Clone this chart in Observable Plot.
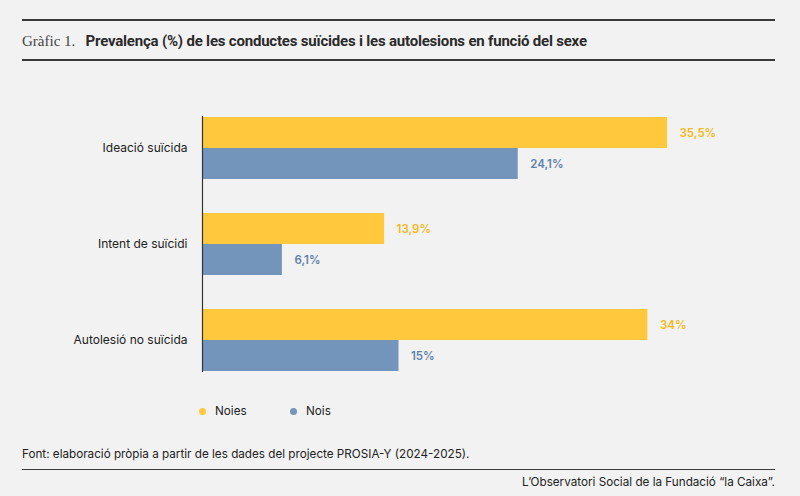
<!DOCTYPE html>
<html><head><meta charset="utf-8">
<script src="https://cdn.jsdelivr.net/npm/d3@7"></script>
<script src="https://cdn.jsdelivr.net/npm/@observablehq/plot@0.6"></script>
<style>
body{margin:0;width:800px;height:496px;background:#f2f2f2;font-family:"Inter",sans-serif;position:relative;overflow:hidden;color:#222}
.abs{position:absolute}
.rule{left:22px;width:753px;height:0;border-top:2px solid #3a3a3a}
</style></head><body>
<div class="abs rule" style="top:19px"></div>
<div class="abs" style="left:22px;top:31px;font-size:15px;white-space:nowrap">
<span style="font-family:'Liberation Serif',serif;color:#444;font-size:15px">Gràfic 1.</span>
<span style="font-family:Roboto,sans-serif;font-weight:700;letter-spacing:-0.2px;margin-left:6px;color:#2a2a2a">Prevalença (%) de les conductes suïcides i les autolesions en funció del sexe</span></div>
<div class="abs rule" style="top:59px"></div>
<div id="chart" class="abs" style="left:0;top:93px"></div>
<div class="abs" style="top:404px;left:199px;font-size:11.7px;display:flex;gap:0">
<span style="display:flex;align-items:center;width:91px"><span style="width:7px;height:7px;border-radius:50%;background:#ffc83d;margin-right:9px"></span>Noies</span>
<span style="display:flex;align-items:center"><span style="width:7px;height:7px;border-radius:50%;background:#7394bb;margin-right:9px"></span>Nois</span>
</div>
<div class="abs" style="left:22px;top:447px;font-size:11.7px">Font: elaboració pròpia a partir de les dades del projecte PROSIA-Y (2024-2025).</div>
<div class="abs rule" style="top:469px;border-top-width:1.5px"></div>
<div class="abs" style="right:25px;top:475px;font-size:11.7px">L’Observatori Social de la Fundació “la Caixa”.</div>
<script>
const categories = ["Ideació suïcida","Intent de suïcidi","Autolesió no suïcida"];
const sexes = ["Noies","Nois"];
const noies = [35.5, 13.9, 34];
const nois = [24.1, 6.1, 15];
const labelsNoies = ["35,5%","13,9%","34%"];
const labelsNois = ["24,1%","6,1%","15%"];
const colors = ["#ffc83d","#7394bb"];
const data = [];
categories.forEach((c,i)=>{
  data.push({cat:c,sex:"Noies",v:noies[i],label:labelsNoies[i]});
  data.push({cat:c,sex:"Nois",v:nois[i],label:labelsNois[i]});
});
const chart = Plot.plot({
  width:800,height:300,marginLeft:202,marginRight:74,marginTop:10,marginBottom:10,
  style:{background:"transparent",fontFamily:"Inter, sans-serif"},
  x:{domain:[0,40],axis:null},
  y:{domain:sexes,axis:null,padding:0},
  fy:{domain:categories,paddingInner:0.344,paddingOuter:0.13,label:null},
  color:{domain:sexes,range:colors},
  marks:[
    Plot.axisFy({anchor:"left",tickSize:0,tickPadding:15,fontSize:12,fill:"#222",label:null}),
    Plot.barX(data,{fy:"cat",y:"sex",x:"v",fill:"sex"}),
    Plot.text(data,{fy:"cat",y:"sex",x:"v",text:"label",dx:12,textAnchor:"start",fill:d=>d.sex==="Noies"?"#f4b921":"#5e81ad",fontWeight:600,fontSize:11.5}),
    Plot.frame({anchor:"left",facet:"super",stroke:"#333",strokeWidth:1.2})
  ]
});
document.getElementById("chart").appendChild(chart);
</script>
</body></html>
